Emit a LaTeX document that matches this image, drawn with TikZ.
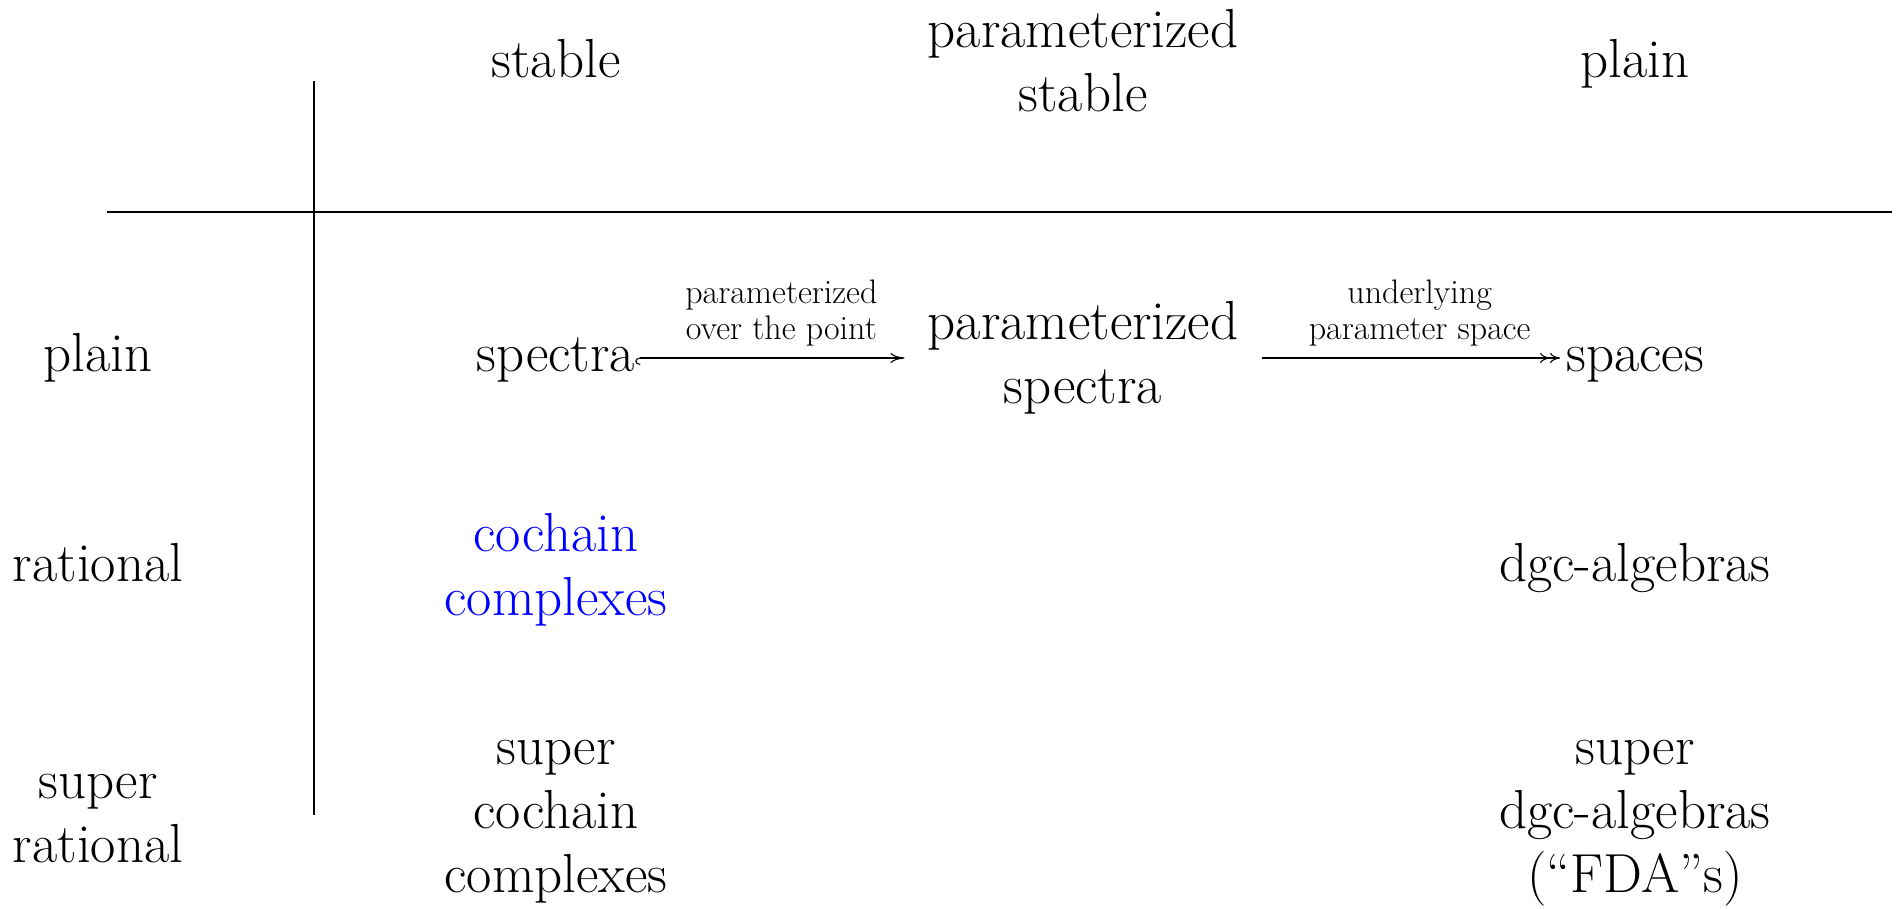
\documentclass[tikz,border=0pt]{standalone}
\usetikzlibrary{arrows.meta}
\begin{document}
\begin{tikzpicture}[x=1pt,y=-1pt,
  cell/.style={inner sep=0pt, align=center, font=\fontsize{55}{64}\selectfont},
  word/.style={cell, text height=38.5pt, text depth=11pt},
  lbl/.style={inner sep=11pt, align=center, font=\fontsize{34}{36.5}\selectfont},
  rule/.style={line width=1.1pt},
  conn/.style={line width=1.1pt},
  hookto/.style={conn, {Hooks[left,length=5pt,width=14pt]}-{To[length=14pt,width=10pt]}},
  twoheads/.style={conn, -{To[length=10pt,width=10pt] To[length=10pt,width=10pt]}}]
\useasboundingbox (0,0) rectangle (1902,908);
% grid rules
\coordinate (vtop) at (314,81);
\coordinate (vbot) at (314,815);
\coordinate (hl) at (107,212);
\coordinate (hr) at (1892,212);
\draw[rule] (vtop) -- (vbot);
\draw[rule] (hl) -- (hr);
% column headers
\node[word] (hstable) at (556,64) {stable};
\node[cell] (hpstable) at (1083,61) {parameterized\\stable};
\node[word] (hplain) at (1635,64) {plain};
% row headers
\node[word] (rplain) at (98,358) {plain};
\node[word] (rrational) at (98,568) {rational};
\node[cell] (rsuper) at (98,819) {super\\rational};
% entries
\node[word] (spectra) at (556,358) {spectra};
\node[cell] (pspectra) at (1083,358) {parameterized\\spectra};
\node[word] (spaces) at (1635,358) {spaces};
\node[cell, text=blue] (cochain) at (556,570) {cochain\\complexes};
\node[word] (dgc) at (1635,568) {dgc-algebras};
\node[cell] (scochain) at (556,822) {super\\cochain\\complexes};
\node[cell] (sdgc) at (1635,823) {super\\dgc-algebras\\(``FDA''s)};
% arrows
\draw[hookto, shorten >=23pt] (spectra.east) -- (spectra.east -| pspectra.west)
  node[lbl, above, pos=0.5] {parameterized\\over the point};
\draw[twoheads, shorten <=23.5pt, shorten >=6pt] (spaces.west -| pspectra.east) -- (spaces.west)
  node[lbl, above, pos=0.553] {underlying\\parameter space};
\end{tikzpicture}
\end{document}
